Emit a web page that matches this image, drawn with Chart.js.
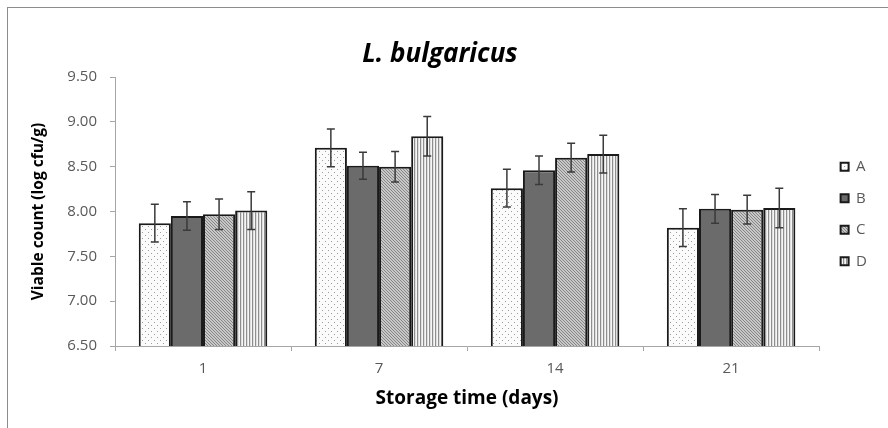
<!DOCTYPE html>
<html lang="en">
<head>
    <meta charset="UTF-8">
    <title>L. bulgaricus</title>
    <script src="https://cdn.jsdelivr.net/npm/chart.js@4.4.1/dist/chart.umd.min.js"></script>
    <style>
        html, body { margin: 0; padding: 0; background: #fff; }
        #wrap { position: relative; width: 888px; height: 428px; }
        #frame { position: absolute; left: 7px; top: 7px; right: -2px; bottom: -2px;
                 border-left: 1px solid #8c8c8c; border-top: 1px solid #8c8c8c; pointer-events: none; }
    </style>
</head>
<body>
<div id="wrap">
    <canvas id="chart" width="888" height="428"></canvas>
    <div id="frame"></div>
</div>
<script>
    // data
    const days = ['1', '7', '14', '21'];
    const seriesNames = ['A', 'B', 'C', 'D'];
    const valuesA = [7.87, 8.71, 8.26, 7.82];
    const valuesB = [7.95, 8.51, 8.46, 8.03];
    const valuesC = [7.97, 8.50, 8.60, 8.02];
    const valuesD = [8.01, 8.84, 8.64, 8.04];
    const errA = [0.21, 0.21, 0.21, 0.21];
    const errB = [0.16, 0.15, 0.16, 0.16];
    const errC = [0.17, 0.17, 0.16, 0.16];
    const errD = [0.21, 0.22, 0.21, 0.22];

    const FONT = '"Open Sans", Lato, sans-serif';

    // fill patterns
    function makePattern(w, h, paint) {
        const c = document.createElement('canvas');
        c.width = w; c.height = h;
        const g = c.getContext('2d');
        paint(g);
        return document.getElementById('chart').getContext('2d').createPattern(c, 'repeat');
    }
    const dots = makePattern(6, 6, g => {
        g.fillStyle = '#fbfbfb'; g.fillRect(0, 0, 6, 6);
        g.fillStyle = '#9c9c9c';
        g.fillRect(1, 1, 1, 1); g.fillRect(4, 4, 1, 1);
    });
    const solid = '#6b6b6b';
    const hatch = makePattern(3, 3, g => {
        g.fillStyle = '#c8c8c8'; g.fillRect(0, 0, 3, 3);
        g.fillStyle = '#858585';
        for (let i = 0; i < 3; i++) g.fillRect(i, i, 1, 1);
    });
    const stripes = makePattern(3, 3, g => {
        g.fillStyle = '#8e8e8e'; g.fillRect(0, 0, 1, 3);
        g.fillStyle = '#dedede'; g.fillRect(1, 0, 1, 3);
        g.fillStyle = '#f6f6f6'; g.fillRect(2, 0, 1, 3);
    });

    const errors = [errA, errB, errC, errD];

    const errorBars = {
        id: 'errorBars',
        afterDatasetsDraw(chart) {
            const ctx = chart.ctx;
            const y = chart.scales.y;
            ctx.save();
            ctx.strokeStyle = '#3a3a3a';
            ctx.lineWidth = 1.5;
            chart.data.datasets.forEach((ds, di) => {
                chart.getDatasetMeta(di).data.forEach((bar, i) => {
                    const v = ds.data[i], e = errors[di][i];
                    const top = y.getPixelForValue(v + e);
                    const bot = y.getPixelForValue(v - e);
                    ctx.beginPath();
                    ctx.moveTo(bar.x, top); ctx.lineTo(bar.x, bot);
                    ctx.moveTo(bar.x - 4, top); ctx.lineTo(bar.x + 4, top);
                    ctx.moveTo(bar.x - 4, bot); ctx.lineTo(bar.x + 4, bot);
                    ctx.stroke();
                });
            });
            ctx.restore();
        }
    };

    // nudge the legend a little away from the plot, like the original
    const legendShift = {
        id: 'legendShift',
        afterLayout(chart) {
            chart.legend.left += 5;
            chart.legend.right += 5;
        }
    };

    const fills = [dots, solid, hatch, stripes];
    const allValues = [valuesA, valuesB, valuesC, valuesD];

    new Chart(document.getElementById('chart'), {
        type: 'bar',
        data: {
            labels: days,
            datasets: seriesNames.map((name, i) => ({
                label: name,
                data: allValues[i],
                backgroundColor: fills[i],
                borderColor: '#1a1a1a',
                borderWidth: 2,
                categoryPercentage: 0.73,
                barPercentage: 1.0
            }))
        },
        options: {
            responsive: false,
            animation: false,
            layout: { padding: { left: 8, right: 16, top: 0, bottom: 0 } },
            plugins: {
                title: {
                    display: true,
                    text: 'L. bulgaricus',
                    color: '#000',
                    font: { family: FONT, size: 26, weight: 'bold', style: 'italic' },
                    padding: { top: 38.5, bottom: 7.3 }
                },
                legend: {
                    position: 'right',
                    labels: {
                        boxWidth: 8,
                        boxHeight: 8,
                        padding: 16.5,
                        color: '#595959',
                        font: { family: FONT, size: 15 }
                    }
                },
                tooltip: { enabled: false }
            },
            scales: {
                x: {
                    grid: { offset: true, drawOnChartArea: false, drawTicks: true, tickLength: 5, color: '#a6a6a6' },
                    border: { color: '#a6a6a6', width: 1 },
                    ticks: { color: '#595959', font: { family: FONT, size: 15 }, padding: 9 },
                    title: {
                        display: true,
                        text: 'Storage time (days)',
                        color: '#000',
                        font: { family: FONT, size: 19, weight: 'bold' },
                        padding: { top: 0, bottom: 18 }
                    },
                    afterFit: s => { s.height = 82; }
                },
                y: {
                    min: 6.5,
                    max: 9.5,
                    grid: { drawOnChartArea: false, drawTicks: true, tickLength: 5, color: '#a6a6a6' },
                    border: { color: '#a6a6a6', width: 1 },
                    ticks: {
                        stepSize: 0.5,
                        color: '#595959',
                        font: { family: FONT, size: 15 },
                        padding: 13,
                        callback: v => Number(v).toFixed(2)
                    },
                    title: {
                        display: true,
                        text: 'Viable count (log cfu/g)',
                        color: '#000',
                        font: { family: FONT, size: 15.5, weight: 'bold' },
                        padding: { top: 21, bottom: 0 }
                    },
                    afterFit: s => { s.width = 107; }
                }
            }
        },
        plugins: [errorBars, legendShift]
    });
</script>
</body>
</html>
